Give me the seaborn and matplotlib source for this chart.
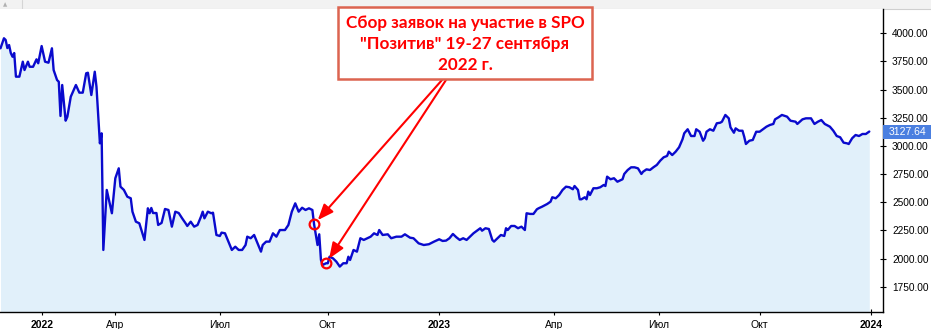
import matplotlib
matplotlib.use("Agg")
import matplotlib.pyplot as plt
import matplotlib.transforms as mtransforms
from matplotlib.patches import Rectangle
from matplotlib.lines import Line2D
import seaborn as sns
import pandas as pd

# ---------------- data (trading-session index, close) ----------------
sessions = [
    -24, -22, -21, -20, -19, -18, -17, -16, -15, -13, -11, -10, -8, -7, -5, -3, -2, 0, 2, 4,
    6, 7, 9, 10, 11, 12, 14, 15, 17, 20, 22, 24, 26, 27, 29, 31, 32, 34, 35, 36,
    38, 41, 43, 45, 46, 48, 50, 52, 53, 55, 57, 60, 62, 63,
    64, 65, 67, 68, 70, 72, 74, 76, 78, 80, 82, 84, 85, 87, 89, 91, 93, 94, 95, 97,
    99, 100, 102, 104, 105, 107, 109, 111, 113, 115, 117, 119, 120, 122, 124, 126, 128, 129, 131, 133,
    135, 137, 139, 142, 144, 146, 148, 150,
    152, 154, 156, 158, 159, 160, 161, 162, 163, 164, 166, 167, 168, 170, 172, 174, 176, 178, 179, 180,
    182, 184, 186, 188, 190, 192, 194, 196, 197, 199, 202, 204, 207, 210, 212, 215, 217, 220, 223, 226, 229,
    232, 234, 236, 238, 240, 242, 244, 246, 248, 250, 252, 254, 256, 257, 259, 261, 263, 264, 266, 268,
    270, 271, 272, 274, 276, 278, 280, 282, 283, 285, 287, 289, 290, 292, 295, 297, 298, 300, 302, 304,
    306, 308, 310, 311, 313, 314,
    315, 317, 318, 319, 320, 322, 324, 326, 328, 329, 330, 332, 334, 336, 338, 339, 340, 342, 344, 346,
    348, 350, 351, 353, 355, 357, 359, 361, 363, 365, 366, 368, 370, 372, 374, 375, 377, 379, 381, 382,
    384, 386, 387, 388, 390, 392, 394, 396,
    397, 399, 401, 402, 404, 405, 407, 409, 410, 411, 413, 415, 417, 419, 421, 423, 425, 427, 428, 430,
    432, 435, 437, 440, 441, 444, 446, 449, 451, 453, 455, 457, 460, 462, 464, 466, 468, 470, 471, 473,
    475, 477, 479, 481, 483,
]
closes = [
    3867, 3956, 3941, 3869, 3896, 3825, 3792, 3825, 3615, 3615, 3748, 3674, 3748, 3703, 3703, 3769, 3734, 3887, 3748, 3739,
    3867, 3674, 3585, 3570, 3266, 3541, 3224, 3259, 3437, 3541, 3473, 3473, 3645, 3650, 3452, 3659, 3526, 3023, 3112, 2076,
    2609, 2402, 2713, 2801, 2638, 2609, 2549, 2535, 2416, 2327, 2313, 2165, 2446, 2402,
    2449, 2404, 2404, 2298, 2316, 2440, 2431, 2283, 2416, 2404, 2357, 2313, 2289, 2327, 2283, 2298, 2372, 2416, 2357, 2416,
    2402, 2407, 2209, 2200, 2230, 2224, 2150, 2076, 2105, 2076, 2076, 2120, 2194, 2180, 2209, 2135, 2061, 2120, 2150, 2150,
    2224, 2194, 2253, 2253, 2298, 2416, 2490, 2416,
    2451, 2431, 2446, 2431, 2304, 2209, 2120, 2215, 1987, 1943, 1958, 1958, 2016, 2002, 1972, 1928, 1958, 1958, 2016, 1987,
    2076, 2061, 2180, 2165, 2180, 2194, 2224, 2209, 2253, 2209, 2215, 2180, 2194, 2194, 2215, 2185, 2180, 2135, 2120, 2127, 2150,
    2171, 2156, 2159, 2180, 2218, 2189, 2165, 2180, 2165, 2194, 2224, 2247, 2269, 2247, 2269, 2262, 2165, 2150, 2180, 2209,
    2200, 2269, 2253, 2289, 2289, 2269, 2283, 2253, 2402, 2396, 2396, 2437, 2446, 2460, 2484, 2505, 2544, 2535, 2564, 2609,
    2638, 2633, 2615, 2644, 2609, 2526,
    2526, 2544, 2526, 2594, 2564, 2624, 2624, 2633, 2653, 2644, 2727, 2704, 2713, 2682, 2697, 2704, 2751, 2786, 2810, 2810,
    2801, 2751, 2771, 2792, 2786, 2810, 2831, 2869, 2899, 2911, 2949, 2919, 2949, 2988, 3059, 3112, 3148, 3088, 3088, 3148,
    3126, 3046, 3068, 3126, 3148, 3135, 3201, 3206,
    3215, 3275, 3245, 3165, 3117, 3156, 3135, 3135, 3082, 3017, 3046, 3053, 3126, 3126, 3148, 3171, 3186, 3195, 3236, 3254,
    3275, 3260, 3224, 3215, 3195, 3236, 3245, 3245, 3195, 3215, 3230, 3195, 3171, 3135, 3088, 3077, 3029, 3023, 3017, 3068,
    3097, 3088, 3106, 3106, 3127.64,
]

tick_sessions = [0, 43, 104, 167, 232, 299, 360, 419, 484]
tick_labels = ["2022", "Апр", "Июл", "Окт", "2023", "Апр", "Июл", "Окт", "2024"]
year_labels = ["2022", "2023", "2024"]
y_ticks = [1750, 2000, 2250, 2500, 2750, 3000, 3250, 3500, 3750, 4000]
spo_sessions = [159, 166]
annotation_text = 'Сбор заявок на участие в SPO\n"Позитив" 19-27 сентября\n2022 г.'
last_label = "3127.64"

# ---------------- style ----------------
sns.set_theme(style="white")
plt.rcParams['font.family'] = ['Liberation Sans', 'DejaVu Sans']

W, H = 931, 329
fig = plt.figure(figsize=(W / 100, H / 100), dpi=100)
fig.patch.set_facecolor("white")

# top toolbar strip
fig.add_artist(Rectangle((0, 1 - 9 / H), 1, 9 / H, transform=fig.transFigure,
                         fc="#F2F2F2", ec="none", zorder=0))
fig.add_artist(Line2D([0, 1], [1 - 9 / H, 1 - 9 / H], transform=fig.transFigure,
                      color="#CFCFCF", lw=0.8, zorder=0))
fig.add_artist(Line2D([22 / W, 22 / W], [1 - 9 / H, 1], transform=fig.transFigure,
                      color="#D5D5D5", lw=0.8, zorder=0))
fig.text(5 / W, 1 - 5 / H, "▲", fontsize=4, color="#B0B0B0", ha="center", va="center",
         family=["DejaVu Sans"])

ax = fig.add_axes([0, 17 / H, 883 / W, 303 / H])
ax.set_facecolor("white")

df = pd.DataFrame({"session": sessions, "close": closes})
y_min, y_max = 1525, 4216
ax.fill_between(df["session"], df["close"], y_min - 100, color="#E1F0FA", lw=0, zorder=1)
sns.lineplot(data=df, x="session", y="close", ax=ax, color="#0A0ACD", linewidth=1.7, zorder=3)

ax.set_xlim(-24.3, 491.0)
ax.set_ylim(y_min, y_max)
ax.set_xlabel("")
ax.set_ylabel("")
ax.grid(False)

for side in ["left", "top"]:
    ax.spines[side].set_visible(False)
for side in ["right", "bottom"]:
    ax.spines[side].set_visible(True)
    ax.spines[side].set_color("black")
    ax.spines[side].set_linewidth(1.0)

ax.yaxis.tick_right()
ax.set_yticks(y_ticks)
ax.set_yticklabels([f"{v:.2f}" for v in y_ticks])
ax.tick_params(axis="y", direction="inout", length=5, width=0.8, pad=4,
               labelsize=7.3, colors="black", right=True, left=False)

ax.set_xticks(tick_sessions)
ax.set_xticklabels(tick_labels)
ax.tick_params(axis="x", direction="inout", length=5, width=0.8, pad=3,
               labelsize=7.5, colors="black", bottom=True)
for lab in ax.get_xticklabels():
    if lab.get_text() in year_labels:
        lab.set_fontweight("bold")

# last price label on the right axis
blend = mtransforms.blended_transform_factory(ax.transAxes, ax.transData)
last = closes[-1]
box_h = 14 * (y_max - y_min) / 303
ax.add_patch(Rectangle((1.0, last - box_h / 2), 48 / 883, box_h, transform=blend,
                       fc="#4A7FE0", ec="none", clip_on=False, zorder=6))
ax.text(1.0 + 24 / 883, last, last_label, transform=blend, ha="center", va="center",
        color="white", fontsize=7.5, zorder=7, clip_on=False)

# SPO markers
spo_vals = [df.loc[df["session"] == s, "close"].iloc[0] for s in spo_sessions]
ax.plot(spo_sessions, spo_vals, "o", mfc="none", mec="#FF0000", ms=7, mew=1.6, zorder=5)

# arrows from annotation box
starts = [(442, H - 80), (446, H - 80)]
for (sx, sy), xs, yv in zip(starts, spo_sessions, spo_vals):
    ax.annotate("", xy=(xs, yv), xycoords="data", xytext=(sx, sy), textcoords="figure pixels",
                arrowprops=dict(arrowstyle="-|>,head_length=0.95,head_width=0.38",
                                color="#FF0000", lw=1.5, shrinkA=0, shrinkB=4,
                                mutation_scale=10),
                zorder=8, annotation_clip=False)

# annotation box
fig.add_artist(Rectangle((338 / W, 1 - 79 / H), 254 / W, 72 / H, transform=fig.transFigure,
                         fc="white", ec="#DC6450", lw=1.8, zorder=10))
fig.text(465 / W, 1 - 44 / H, annotation_text, ha="center", va="center", color="#FF0000",
         fontsize=12.3, family=["Lato", "DejaVu Sans"], fontweight="bold", linespacing=1.4,
         zorder=11)

fig.savefig("out.png", dpi=100)
